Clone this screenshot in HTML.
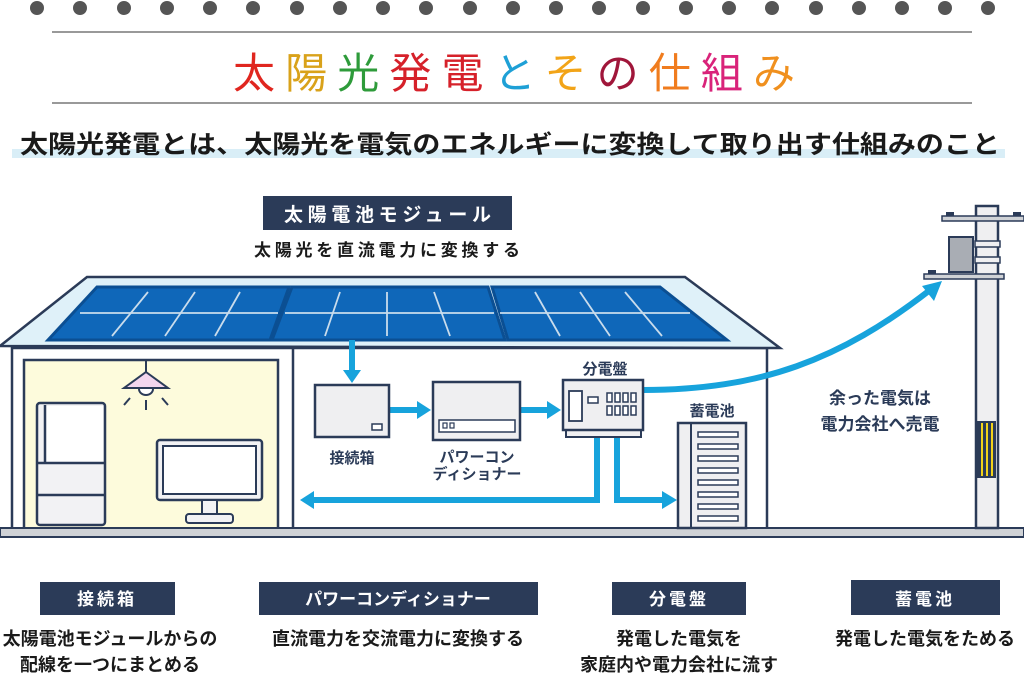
<!DOCTYPE html>
<html><head><meta charset="utf-8"><style>
html,body{margin:0;padding:0;background:#fff;}
svg{display:block;}
text{font-family:"Liberation Sans","Noto Sans CJK JP",sans-serif;font-weight:bold;}
</style></head><body>
<svg width="1024" height="683" viewBox="0 0 1024 683" xmlns="http://www.w3.org/2000/svg">
<g fill="#555">
<circle cx="37" cy="8" r="7"/><circle cx="80" cy="8" r="7"/><circle cx="124" cy="8" r="7"/><circle cx="167" cy="8" r="7"/><circle cx="210" cy="8" r="7"/><circle cx="253" cy="8" r="7"/><circle cx="297" cy="8" r="7"/><circle cx="340" cy="8" r="7"/><circle cx="383" cy="8" r="7"/><circle cx="426" cy="8" r="7"/><circle cx="470" cy="8" r="7"/><circle cx="513" cy="8" r="7"/><circle cx="556" cy="8" r="7"/><circle cx="599" cy="8" r="7"/><circle cx="643" cy="8" r="7"/><circle cx="686" cy="8" r="7"/><circle cx="729" cy="8" r="7"/><circle cx="772" cy="8" r="7"/><circle cx="816" cy="8" r="7"/><circle cx="859" cy="8" r="7"/><circle cx="902" cy="8" r="7"/><circle cx="945" cy="8" r="7"/><circle cx="988" cy="8" r="7"/>
</g>
<line x1="52" y1="32" x2="972" y2="32" stroke="#999" stroke-width="2"/>
<line x1="52" y1="103" x2="972" y2="103" stroke="#999" stroke-width="2"/>
<text x="233" y="88" font-size="42" style="font-weight:normal" textLength="562" lengthAdjust="spacing"><tspan fill="#e0261f">太</tspan><tspan fill="#d9a21a">陽</tspan><tspan fill="#2e9b3a">光</tspan><tspan fill="#d6212a">発</tspan><tspan fill="#d6212a">電</tspan><tspan fill="#1ea0d6">と</tspan><tspan fill="#f2a418">そ</tspan><tspan fill="#a0163a">の</tspan><tspan fill="#f07c1e">仕</tspan><tspan fill="#d9237a">組</tspan><tspan fill="#f0901e">み</tspan></text>
<rect x="12" y="149" width="993" height="9" fill="#d9eef7"/>
<text x="20" y="153" font-size="25" fill="#1a1a1a" textLength="980" lengthAdjust="spacingAndGlyphs">太陽光発電とは、太陽光を電気のエネルギーに変換して取り出す仕組みのこと</text>

<rect x="263" y="196" width="249" height="34" fill="#2b3b58"/>
<text x="284" y="221" font-size="19" fill="#fff" textLength="207">太陽電池モジュール</text>
<text x="254" y="256" font-size="17" fill="#1a1a1a" textLength="266">太陽光を直流電力に変換する</text>

<!-- house walls -->
<rect x="12" y="348" width="755" height="182" fill="#fff" stroke="#2b3b58" stroke-width="2.5"/>
<rect x="24" y="360" width="254" height="170" fill="#fdfbdc" stroke="#2b3b58" stroke-width="2.5"/>
<line x1="293" y1="348" x2="293" y2="530" stroke="#2b3b58" stroke-width="2.5"/>
<!-- roof -->
<polygon points="87,277 685,277 780,348 0,346" fill="#dff1f9" stroke="#2b3b58" stroke-width="2.5"/>
<g stroke="#0b4f93" stroke-width="3" fill="#0f67b9">
<polygon points="97,287 289,287 270,340 48,340"/>
<polygon points="292,287 488,287 505,340 272,340"/>
<polygon points="492,287 660,287 727,340 508,340"/>
</g>
<g stroke="#c9dcec" stroke-width="1.8">
<line x1="80" y1="313" x2="278" y2="313"/><line x1="148" y1="292" x2="112" y2="336"/><line x1="195" y1="292" x2="165" y2="336"/><line x1="240" y1="292" x2="215" y2="336"/>
<line x1="285" y1="313" x2="494" y2="313"/><line x1="340" y1="292" x2="325" y2="336"/><line x1="387" y1="292" x2="387" y2="336"/><line x1="434" y1="292" x2="450" y2="336"/>
<line x1="500" y1="313" x2="690" y2="313"/><line x1="535" y1="292" x2="560" y2="336"/><line x1="580" y1="292" x2="610" y2="336"/><line x1="625" y1="292" x2="662" y2="336"/>
</g>
<!-- ground -->
<rect x="0" y="528" width="1024" height="9" fill="#cfd2d6" stroke="#2b3b58" stroke-width="2"/>

<!-- lamp -->
<line x1="146" y1="360" x2="146" y2="372" stroke="#2b3b58" stroke-width="2"/>
<polygon points="146,372 168,388 124,388" fill="#f3d6ee" stroke="#2b3b58" stroke-width="2"/>
<path d="M139 389 a7 6 0 0 0 14 0" fill="#fff" stroke="#2b3b58" stroke-width="2"/>
<g stroke="#2b3b58" stroke-width="2"><line x1="146" y1="400" x2="146" y2="410"/><line x1="130" y1="398" x2="124" y2="405"/><line x1="162" y1="398" x2="168" y2="405"/></g>
<!-- fridge -->
<rect x="37" y="403" width="68" height="122" rx="3" fill="#f2f2f4" stroke="#2b3b58" stroke-width="2.5"/>
<rect x="45" y="406" width="58" height="56" fill="#fff"/>
<g stroke="#2b3b58" stroke-width="2.5">
<line x1="37" y1="463" x2="105" y2="463"/><line x1="37" y1="495" x2="105" y2="495"/>
<line x1="45" y1="405" x2="45" y2="463"/>
</g>
<!-- tv -->
<rect x="157" y="440" width="105" height="60" rx="3" fill="#f2f2f4" stroke="#2b3b58" stroke-width="2.5"/>
<rect x="163" y="446" width="93" height="48" fill="#fff" stroke="#2b3b58" stroke-width="2"/>
<rect x="202" y="500" width="15" height="15" fill="#f2f2f4" stroke="#2b3b58" stroke-width="2"/>
<rect x="186" y="514" width="47" height="9" rx="3" fill="#f2f2f4" stroke="#2b3b58" stroke-width="2"/>

<!-- arrows -->
<g fill="#17a3dc" stroke="none">
<rect x="349" y="340" width="6" height="32"/><polygon points="343,370 361,370 352,383"/>
<rect x="389" y="407" width="30" height="6"/><polygon points="417,401 417,419 431,410"/>
<rect x="520" y="407" width="29" height="6"/><polygon points="547,401 547,419 561,410"/>
<rect x="594" y="435" width="6" height="68"/><rect x="312" y="497" width="288" height="6"/><polygon points="314,491 314,509 300,500"/>
<rect x="614" y="435" width="6" height="68"/><rect x="614" y="497" width="50" height="6"/><polygon points="662,491 662,509 677,500"/>
<polygon points="922,286 942,281 934,301"/>
</g>
<path d="M643 390 C760 390 840 360 930 290" fill="none" stroke="#17a3dc" stroke-width="6"/>

<!-- junction box -->
<rect x="315" y="385" width="74" height="52" fill="#efeff1" stroke="#2b3b58" stroke-width="2.5"/>
<rect x="372" y="424" width="10" height="6" fill="#fff" stroke="#2b3b58" stroke-width="1.5"/>
<text x="352" y="463" font-size="15" text-anchor="middle" fill="#2b3b58">接続箱</text>
<!-- PCS -->
<rect x="433" y="382" width="87" height="58" fill="#efeff1" stroke="#2b3b58" stroke-width="2.5"/>
<rect x="439" y="420" width="76" height="12" fill="#fff" stroke="#2b3b58" stroke-width="1.5"/>
<rect x="443" y="423" width="4" height="5" fill="none" stroke="#2b3b58" stroke-width="1.2"/><rect x="450" y="423" width="4" height="5" fill="none" stroke="#2b3b58" stroke-width="1.2"/>
<text x="477" y="462" font-size="15" text-anchor="middle" fill="#2b3b58">パワーコン</text>
<text x="477" y="479" font-size="15" text-anchor="middle" fill="#2b3b58">ディショナー</text>
<!-- distribution board -->
<text x="605" y="374" font-size="15" text-anchor="middle" fill="#2b3b58">分電盤</text>
<rect x="566" y="428" width="75" height="9" fill="#efeff1" stroke="#2b3b58" stroke-width="2"/>
<rect x="563" y="380" width="80" height="50" fill="#efeff1" stroke="#2b3b58" stroke-width="2.5"/>
<rect x="569" y="391" width="13" height="30" fill="#fff" stroke="#2b3b58" stroke-width="1.8"/>
<rect x="588" y="397" width="10" height="6" fill="#fff" stroke="#2b3b58" stroke-width="1.5"/>
<g fill="#fff" stroke="#2b3b58" stroke-width="1.5">
<rect x="607" y="393" width="5" height="9"/><rect x="615" y="393" width="5" height="9"/><rect x="623" y="393" width="5" height="9"/><rect x="631" y="393" width="5" height="9"/>
<rect x="607" y="406" width="5" height="9"/><rect x="615" y="406" width="5" height="9"/><rect x="623" y="406" width="5" height="9"/><rect x="631" y="406" width="5" height="9"/>
</g>
<!-- battery -->
<text x="712" y="416" font-size="15" text-anchor="middle" fill="#2b3b58">蓄電池</text>
<rect x="678" y="423" width="68" height="105" fill="#efeff1" stroke="#2b3b58" stroke-width="2.5"/>
<line x1="691" y1="423" x2="691" y2="528" stroke="#2b3b58" stroke-width="2"/>
<g fill="#fff" stroke="#2b3b58" stroke-width="1.5">
<rect x="698" y="432" width="40" height="5"/><rect x="698" y="444" width="40" height="5"/><rect x="698" y="456" width="40" height="5"/><rect x="698" y="468" width="40" height="5"/><rect x="698" y="480" width="40" height="5"/><rect x="698" y="492" width="40" height="5"/><rect x="698" y="504" width="40" height="5"/><rect x="698" y="516" width="40" height="5"/>
</g>
<text x="880" y="404" font-size="17" text-anchor="middle" fill="#2b3b58">余った電気は</text>
<text x="880" y="430" font-size="17" text-anchor="middle" fill="#2b3b58">電力会社へ売電</text>

<!-- pole -->
<rect x="976" y="206" width="22" height="322" fill="#efeff1" stroke="#2b3b58" stroke-width="2.5"/>
<rect x="942" y="216" width="82" height="5" fill="#cfd2d6" stroke="#2b3b58" stroke-width="1.5"/>
<rect x="946" y="212" width="8" height="4" fill="#2b3b58"/><rect x="1013" y="212" width="8" height="4" fill="#2b3b58"/>
<rect x="924" y="274" width="80" height="5" fill="#cfd2d6" stroke="#2b3b58" stroke-width="1.5"/>
<rect x="928" y="270" width="8" height="4" fill="#2b3b58"/>
<rect x="949" y="237" width="24" height="35" fill="#a9adb4" stroke="#2b3b58" stroke-width="2"/>
<rect x="975" y="241" width="25" height="6" fill="#efeff1" stroke="#2b3b58" stroke-width="1.5"/>
<rect x="975" y="257" width="25" height="6" fill="#efeff1" stroke="#2b3b58" stroke-width="1.5"/>
<rect x="977" y="421" width="19" height="57" fill="#2b3b58"/>
<g stroke="#f2d21a" stroke-width="2"><line x1="982" y1="423" x2="982" y2="476"/><line x1="987" y1="423" x2="987" y2="476"/><line x1="992" y1="423" x2="992" y2="476"/></g>

<!-- bottom labels -->
<g fill="#2b3b58">
<rect x="40" y="582" width="135" height="33"/><rect x="259" y="582" width="279" height="33"/><rect x="612" y="582" width="134" height="33"/><rect x="851" y="580" width="149" height="35"/>
</g>
<g fill="#fff" font-size="17" text-anchor="middle">
<text x="107" y="605" letter-spacing="3">接続箱</text><text x="398" y="605">パワーコンディショナー</text><text x="679" y="605" letter-spacing="3">分電盤</text><text x="925" y="605" letter-spacing="3">蓄電池</text>
</g>
<g fill="#1a1a1a" font-size="18" text-anchor="middle">
<text x="110" y="645">太陽電池モジュールからの</text><text x="110" y="671">配線を一つにまとめる</text>
<text x="398" y="645">直流電力を交流電力に変換する</text>
<text x="679" y="645">発電した電気を</text><text x="679" y="671">家庭内や電力会社に流す</text>
<text x="925" y="645">発電した電気をためる</text>
</g>
</svg>
</body></html>
